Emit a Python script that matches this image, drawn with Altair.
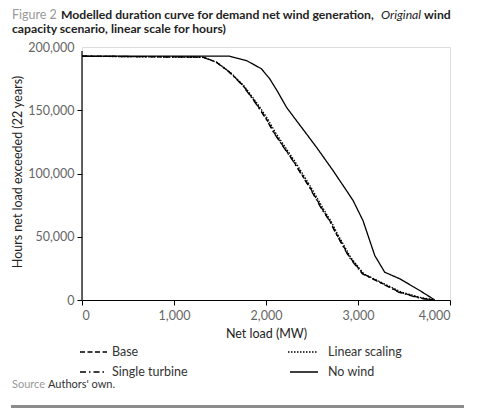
import altair as alt
import pandas as pd

# ---- data ----
base_mw = [0, 1315, 1461, 1605, 1750, 1896, 2004, 2095, 2293, 2475, 2620, 2692, 2765, 2910, 3054, 3236, 3453, 3671, 3815]
base_hours = [192720, 192000, 188000, 180100, 169600, 155100, 143200, 131400, 110300, 89200, 70800, 62800, 52300, 33800, 20700, 14100, 6200, 1700, 0]

linear_mw = [0, 1325, 1470, 1615, 1762, 1910, 2020, 2112, 2310, 2490, 2635, 2705, 2778, 2922, 3064, 3252, 3470, 3690, 3835]
linear_hours = [192720, 191800, 187600, 179800, 169300, 154800, 143000, 131200, 110100, 89000, 70600, 62600, 52100, 33600, 20600, 14000, 6300, 1800, 0]

single_mw = [0, 1305, 1455, 1598, 1745, 1890, 1998, 2090, 2288, 2470, 2612, 2688, 2760, 2902, 3046, 3228, 3445, 3660, 3805]
single_hours = [192720, 192100, 188200, 180300, 169800, 155300, 143400, 131600, 110500, 89400, 71000, 63000, 52500, 34000, 20800, 14200, 6100, 1600, 0]

nowind_mw = [0, 1605, 1787, 1950, 2040, 2130, 2222, 2330, 2439, 2548, 2728, 2874, 2946, 3054, 3182, 3290, 3453, 3671, 3834]
nowind_hours = [192720, 192720, 189300, 182800, 174900, 164300, 152400, 141900, 131400, 120800, 102400, 86600, 78700, 62800, 35200, 22000, 16800, 7500, 0]

series_names = ["Base", "Linear scaling", "Single turbine", "No wind"]
series_dash = [[5, 2.5], [1.5, 1.5], [6, 3, 1.5, 3], [1, 0]]

x_ticks = [0, 1000, 2000, 3000, 4000]
y_ticks = [0, 50000, 100000, 150000, 200000]

rows = []
for name, xs, ys in zip(series_names,
                        [base_mw, linear_mw, single_mw, nowind_mw],
                        [base_hours, linear_hours, single_hours, nowind_hours]):
    for i, (a, b) in enumerate(zip(xs, ys)):
        rows.append({"series": name, "mw": a, "hours": b, "idx": i})
df = pd.DataFrame(rows)

FONT = "Lato"
W, H = 368, 253
one = pd.DataFrame({"k": [0]})

lines = alt.Chart(df).mark_line(color="black", strokeWidth=1.3).encode(
    x=alt.X("mw:Q", scale=alt.Scale(domain=[0, 4000], nice=False),
            axis=alt.Axis(values=x_ticks, format=",d", title="Net load (MW)",
                          domainColor="black", tickColor="black", tickSize=5,
                          labelColor="#666", labelFontSize=12.5, labelFont=FONT,
                          labelPadding=4, titleFont=FONT, titleFontSize=12.5,
                          titleFontWeight="normal", titleColor="#222", titlePadding=6,
                          grid=False, domainWidth=1.2)),
    y=alt.Y("hours:Q", scale=alt.Scale(domain=[0, 200000], nice=False),
            axis=alt.Axis(values=y_ticks, format=",d", title=None, domain=False,
                          tickColor="black", tickSize=5,
                          tickOpacity={"condition": {"test": "datum.value == 200000", "value": 0}, "value": 1},
                          labelColor="#666", labelFontSize=12.5, labelFont=FONT,
                          labelPadding=3, grid=False)),
    strokeDash=alt.StrokeDash("series:N", scale=alt.Scale(domain=series_names, range=series_dash), legend=None),
    order="idx:Q",
    detail="series:N",
)

y_domain = alt.Chart(one).mark_rule(color="black", strokeWidth=1.2).encode(
    x=alt.value(0), y=alt.value(4), y2=alt.value(H))

def txt(text, x, y, size=12.5, weight="normal", style="normal", color="#222", angle=0, align="left"):
    return alt.Chart(one).mark_text(text=text, font=FONT, fontSize=size, fontWeight=weight,
                                    fontStyle=style, color=color, angle=angle, align=align,
                                    baseline="alphabetic").encode(x=alt.value(x), y=alt.value(y))

def rule(x1, x2, y, dash, width=1.3, color="black"):
    return alt.Chart(one).mark_rule(color=color, strokeWidth=width, strokeDash=dash).encode(
        x=alt.value(x1), x2=alt.value(x2), y=alt.value(y))

ox, oy = 82, 47  # plot origin on page
title_parts = [
    txt("Figure 2", 12 - ox, 19 - oy, weight="normal", color="#999"),
    txt("Modelled duration curve for demand net wind generation,", 61 - ox, 19 - oy, size=12.2, weight="bold", color="#222"),
    txt("Original", 381 - ox, 19 - oy, size=12.2, style="italic", color="#222"),
    txt("wind", 424 - ox, 19 - oy, size=12.2, weight="bold", color="#222"),
    txt("capacity scenario, linear scale for hours)", 12 - ox, 33 - oy, size=12.2, weight="bold", color="#222"),
]

ytitle = alt.Chart(one).mark_text(text="Hours net load exceeded (22 years)", font=FONT, fontSize=12.5,
                                  color="#222", angle=270, align="center", baseline="middle").encode(
    x=alt.value(18 - ox), y=alt.value(172 - oy))

legend = [
    rule(80 - ox, 107 - ox, 352 - oy, series_dash[0]),
    txt("Base", 112 - ox, 356 - oy, size=12.5, color="#333"),
    rule(80 - ox, 107 - ox, 372 - oy, series_dash[2]),
    txt("Single turbine", 112 - ox, 376 - oy, size=12.5, color="#333"),
    rule(288 - ox, 318 - ox, 352 - oy, series_dash[1]),
    txt("Linear scaling", 328 - ox, 356 - oy, size=12.5, color="#333"),
    rule(290 - ox, 318 - ox, 372 - oy, series_dash[3]),
    txt("No wind", 328 - ox, 376 - oy, size=12.5, color="#333"),
]

source = [
    txt("Source", 12 - ox, 388 - oy, size=11, color="#999"),
    txt("Authors' own.", 48 - ox, 388 - oy, size=11, color="#333"),
]

bar = rule(11 - ox, 464 - ox, 407 - oy, [1, 0], width=4, color="#8c8c8c")

chart = alt.layer(lines, y_domain, ytitle, *title_parts, *legend, *source, bar).properties(
    width=W, height=H,
    autosize=alt.AutoSizeParams(type="none"),
    padding={"left": 74, "top": 39, "right": 22, "bottom": 108},
).configure_view(stroke=None).configure(background="white")

chart.save("out.html", embed_options={"renderer": "svg", "actions": False})
